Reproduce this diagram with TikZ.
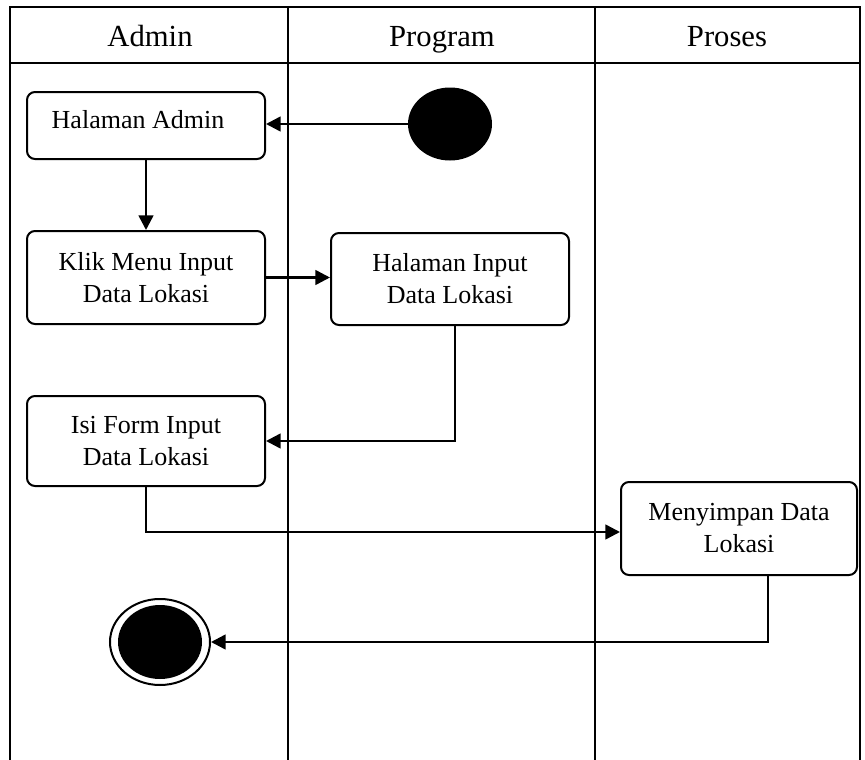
\documentclass[tikz,border=0pt]{standalone}
\usepackage{fontspec}
\setmainfont{Liberation Serif}
\usetikzlibrary{arrows.meta,shapes.geometric,calc}

\tikzset{
  frameline/.style={line width=1.8pt},
  lanehead/.style={font=\fontsize{23}{27}\selectfont, anchor=base, inner sep=0pt},
  activity/.style={draw, line width=1.5pt, rounded corners=6pt, align=center,
    minimum width=178.5pt, inner sep=2pt,
    font=\fontsize{19.5}{24}\selectfont},
  flow/.style={line width=1.9pt, -{Triangle[length=11pt,width=11pt]}},
}

\begin{document}
\begin{tikzpicture}[x=0.75pt,y=-0.75pt]
\useasboundingbox (0,0) rectangle (865,760);

% swimlane frame
\draw[frameline] (10,760) -- (10,7) -- (860,7) -- (860,760);
\draw[frameline] (10,63) -- (860,63);
\draw[line width=1.5pt] (288,7) -- (288,760);
\draw[line width=1.5pt] (595,7) -- (595,760);

% lane titles
\node[lanehead] (hAdmin) at (150,46) {Admin};
\node[lanehead] (hProgram) at (442,46) {Program};
\node[lanehead] (hProses) at (727,46) {Proses};

% start and end states
\node[ellipse, fill=black, minimum width=63pt, minimum height=54.75pt, inner sep=0pt] (start) at (450,124) {};
\node[ellipse, draw, line width=1.5pt, fill=white, minimum width=75pt, minimum height=64.5pt, inner sep=0pt] (endo) at (160,642) {};
\node[ellipse, fill=black, minimum width=63pt, minimum height=55.5pt, inner sep=0pt] (endi) at (160,642) {};

% activities
\node[activity, minimum height=50.25pt] (ha) at (146,125.5) {};
\node[font=\fontsize{19.5}{24}\selectfont] (haText) at (138,120) {Halaman Admin};
\node[activity, minimum height=69.75pt] (klik) at (146,277.5) {Klik Menu Input\\Data Lokasi};
\node[activity, minimum height=69pt] (hi) at (450,279) {Halaman Input\\Data Lokasi};
\node[activity, minimum height=67.5pt] (isi) at (146,441) {Isi Form Input\\Data Lokasi};
\node[activity, minimum width=177pt, minimum height=69.75pt] (men) at (739,528.5) {Menyimpan Data\\Lokasi};

% control flow
\draw[flow] (start.west) -- (start.west -| ha.east);
\draw[flow] (ha.south) -- (klik.north);
\draw[flow] (klik.east) -- (klik.east -| hi.west);
\draw[flow] ($(hi.south)+(5,0)$) |- (isi.east);
\draw[flow] (isi.south) |- ($(men.west)+(0,3.5)$);
\draw[flow] ($(men.south)+(29,0)$) |- (endo.east);
\end{tikzpicture}
\end{document}
